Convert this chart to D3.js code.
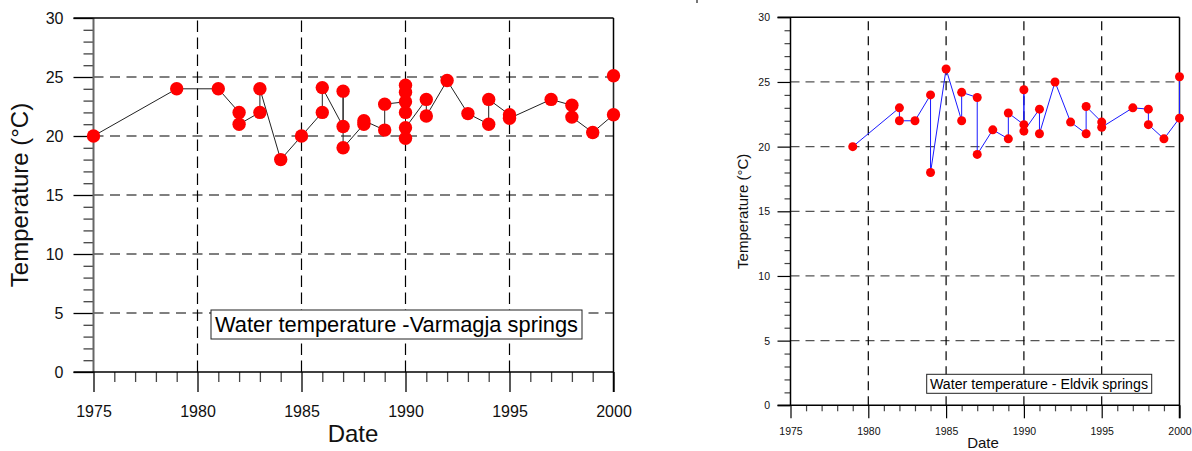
<!DOCTYPE html>
<html><head><meta charset="utf-8">
<script src="https://cdn.jsdelivr.net/npm/d3@7"></script>
<style>
body{margin:0;background:#fff;}
svg{display:block;font-family:"Liberation Sans",Arial,sans-serif;}
</style></head>
<body><svg id="c" width="1192" height="451"></svg>
<script>
// ---------- data ----------
const xTickYears = [1975, 1980, 1985, 1990, 1995, 2000];
const yTickTemps = [0, 5, 10, 15, 20, 25, 30];

const varmagjaYears = [1975,1979,1981,1982,1982,1983,1983,1984,1985,1986,1986,1987,1987,1987,1988,1988,1989,1989,1990,1990,1990,1990,1990,1990,1991,1991,1992,1993,1994,1994,1995,1995,1997,1998,1998,1999,2000,2000];
const varmagjaTemps = [20,24,24,22,21,22,24,18,20,22,24.1,20.8,23.8,19,21,21.3,20.5,22.7,22.9,24.3,23.7,22.0,19.8,20.7,23.1,21.7,24.7,21.9,21.0,23.1,21.8,21.5,23.1,22.6,21.6,20.3,21.8,25.1];

const eldvikYears = [1979,1982,1982,1983,1984,1984,1985,1986,1986,1987,1987,1988,1989,1989,1990,1990,1990,1991,1991,1992,1993,1994,1994,1995,1995,1997,1998,1998,1999,2000,2000];
const eldvikTemps = [20,23,22,22,24,18,26,22,24.2,23.8,19.4,21.3,20.6,22.6,21.7,24.4,21.2,22.9,21.0,25.0,21.9,21.0,23.1,21.9,21.5,23.0,22.9,21.7,20.6,22.2,25.4];

const titles = {
  left: "Water temperature -Varmagja springs",
  right: "Water temperature - Eldvik springs"
};

const svg = d3.select("#c");

function drawChart(cfg) {
  const g = svg.append("g");
  const x = d3.scaleLinear().domain([1975, 2000]).range([cfg.x0, cfg.x1]);
  const y = d3.scaleLinear().domain([0, 30]).range([cfg.y0, cfg.y1]);
  const minorY = d3.range(0, 31, 1).filter(v => v % 5 !== 0);
  const minorX = d3.range(1975, 2001, 1).filter(v => v % 5 !== 0);

  // gridlines
  g.append("g").selectAll("line").data(yTickTemps.filter(v => v > 0 && v < 30)).join("line")
    .attr("x1", cfg.x0).attr("x2", cfg.x1)
    .attr("y1", d => y(d)).attr("y2", d => y(d))
    .attr("stroke", cfg.hgridColor).attr("stroke-width", cfg.gridW)
    .attr("stroke-dasharray", cfg.dash);
  g.append("g").selectAll("line").data(xTickYears.filter(v => v > 1975 && v < 2000)).join("line")
    .attr("x1", d => x(d)).attr("x2", d => x(d))
    .attr("y1", cfg.y0).attr("y2", cfg.y1)
    .attr("stroke", "#000").attr("stroke-width", cfg.gridW)
    .attr("stroke-dasharray", cfg.vdash);

  // minor ticks
  const minorYAxis = g.append("g").attr("transform", `translate(${cfg.x0},0)`)
    .call(d3.axisLeft(y).tickValues(minorY).tickSize(cfg.minorLen).tickFormat(""));
  const minorXAxis = g.append("g").attr("transform", `translate(0,${cfg.y0})`)
    .call(d3.axisBottom(x).tickValues(minorX).tickSize(cfg.minorLen).tickFormat(""));
  [minorYAxis, minorXAxis].forEach(a => {
    a.select(".domain").remove();
    a.selectAll("line").attr("stroke", "#444").attr("stroke-width", cfg.tickW);
  });

  // major ticks + labels
  const yAxis = g.append("g").attr("transform", `translate(${cfg.x0},0)`)
    .call(d3.axisLeft(y).tickValues(yTickTemps).tickSize(cfg.majorLen).tickPadding(cfg.yPad).tickFormat(d3.format("d")));
  const xAxis = g.append("g").attr("transform", `translate(0,${cfg.y0})`)
    .call(d3.axisBottom(x).tickValues(xTickYears).tickSize(cfg.majorLen).tickPadding(cfg.xPad).tickFormat(d3.format("d")));
  [yAxis, xAxis].forEach(a => {
    a.select(".domain").remove();
    a.attr("font-family", null).attr("font-size", cfg.tickFont);
    a.selectAll("line").attr("stroke", "#000").attr("stroke-width", cfg.tickW);
    a.selectAll("text").attr("fill", "#111");
  });

  // frame
  g.append("line").attr("x1", cfg.x0).attr("x2", cfg.x0).attr("y1", cfg.y1).attr("y2", cfg.y0)
    .attr("stroke", cfg.yAxisColor).attr("stroke-width", cfg.yAxisW);
  g.append("line").attr("x1", cfg.x0 - cfg.majorLen).attr("x2", cfg.x1).attr("y1", cfg.y0).attr("y2", cfg.y0)
    .attr("stroke", "#000").attr("stroke-width", cfg.frameW);
  g.append("line").attr("x1", cfg.x0 - cfg.majorLen).attr("x2", cfg.x1).attr("y1", cfg.y1).attr("y2", cfg.y1)
    .attr("stroke", "#000").attr("stroke-width", cfg.frameW);
  g.append("line").attr("x1", cfg.x1).attr("x2", cfg.x1).attr("y1", cfg.y1).attr("y2", cfg.y0 + cfg.majorLen)
    .attr("stroke", "#000").attr("stroke-width", cfg.frameW);

  // series
  const pts = cfg.years.map((yr, i) => [yr, cfg.temps[i]]);
  g.append("path").datum(pts)
    .attr("d", d3.line().x(d => x(d[0])).y(d => y(d[1])))
    .attr("fill", "none").attr("stroke", cfg.lineColor).attr("stroke-width", cfg.lineW);
  g.append("g").selectAll("circle").data(pts).join("circle")
    .attr("cx", d => x(d[0])).attr("cy", d => y(d[1])).attr("r", cfg.r)
    .attr("fill", "#ff0000");

  // legend box
  const lb = cfg.legend;
  g.append("rect").attr("x", lb.x).attr("y", lb.y).attr("width", lb.w).attr("height", lb.h)
    .attr("fill", "#fff").attr("stroke", "#222").attr("stroke-width", 1);
  g.append("text").attr("x", lb.tx).attr("y", lb.ty).attr("font-size", lb.fs)
    .attr("textLength", lb.tl).attr("lengthAdjust", "spacingAndGlyphs")
    .attr("fill", "#000").text(cfg.title);

  // axis titles
  g.append("text").attr("transform", `translate(${cfg.ytX},${(cfg.y0 + cfg.y1) / 2}) rotate(-90)`)
    .attr("text-anchor", "middle").attr("font-size", cfg.titleFont).attr("fill", "#111")
    .text("Temperature (°C)");
  g.append("text").attr("x", cfg.dateX).attr("y", cfg.dateY)
    .attr("text-anchor", "middle").attr("font-size", cfg.titleFont).attr("fill", "#111")
    .text("Date");
}

drawChart({
  x0: 93.5, x1: 613.5, y0: 372, y1: 18,
  years: varmagjaYears, temps: varmagjaTemps, title: titles.left,
  hgridColor: "#000", gridW: 1.2, dash: "10,6.5", vdash: "11.5,5.5",
  minorLen: 10, majorLen: 20, tickW: 1.3, yPad: 10, xPad: 14, tickFont: "16px",
  yAxisColor: "#666", yAxisW: 2, frameW: 1.5,
  lineColor: "#222", lineW: 1, r: 6.7,
  legend: {x: 211, y: 310, w: 371, h: 29, tx: 215, ty: 331.5, fs: 22, tl: 363},
  ytX: 28, dateX: 353, dateY: 442, titleFont: "24px"
});

drawChart({
  x0: 790.5, x1: 1179.5, y0: 405.3, y1: 17.3,
  years: eldvikYears, temps: eldvikTemps, title: titles.right,
  hgridColor: "#555", gridW: 1.2, dash: "9,6", vdash: "9,6",
  minorLen: 6, majorLen: 13, tickW: 1.2, yPad: 7.5, xPad: 9, tickFont: "10.5px",
  yAxisColor: "#000", yAxisW: 1.5, frameW: 1.5,
  lineColor: "#1a1aff", lineW: 1, r: 4.5,
  legend: {x: 926.7, y: 374.3, w: 225, h: 19, tx: 930, ty: 388.5, fs: 14, tl: 218},
  ytX: 747.5, dateX: 983, dateY: 448, titleFont: "15px"
});

// small stray mark at top
svg.append("rect").attr("x", 696).attr("y", 0).attr("width", 2).attr("height", 3).attr("fill", "#777");
</script>
</body></html>
